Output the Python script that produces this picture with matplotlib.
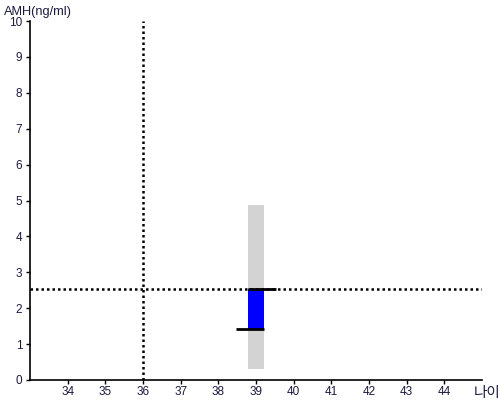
import matplotlib
matplotlib.use("Agg")
import matplotlib.pyplot as plt

plt.rcParams['font.family'] = ['Liberation Sans', 'Noto Sans CJK KR', 'DejaVu Sans']

age = 39.0
range_low, range_high = 0.31, 4.87
amh_low, amh_high = 1.42, 2.53
ref_age = 36
ref_amh = 2.53
x_ticks = list(range(34, 45))
y_ticks = list(range(0, 11))

fig = plt.figure(figsize=(5, 4), dpi=100)
ax = fig.add_axes([0.06, 0.05, 0.904, 0.8975])

bw = 0.43
ax.bar([age], [range_high - range_low], bottom=[range_low], width=bw, color='#d3d3d3', zorder=1)
ax.bar([age], [amh_high - amh_low], bottom=[amh_low], width=bw, color='#0000ff', zorder=2)
ax.plot([age - bw / 2, age + bw / 2 + 0.32], [amh_high, amh_high], color='black', lw=2, zorder=4, solid_capstyle='butt')
ax.plot([age - bw / 2 - 0.32, age + bw / 2], [amh_low, amh_low], color='black', lw=2, zorder=4, solid_capstyle='butt')
ax.axhline(ref_amh, color='black', lw=1.8, ls=(0, (1, 1.2)), zorder=3)
ax.axvline(ref_age, color='black', lw=1.8, ls=(0, (1, 1.2)), zorder=3)

ax.set_xlim(33, 45)
ax.set_ylim(0, 10)
ax.set_xticks(x_ticks)
ax.set_yticks(y_ticks)
ax.tick_params(labelsize=8.5, colors='black', labelcolor='#1a1a40', length=3, width=1)
ax.tick_params(axis='x', pad=1.5)
ax.tick_params(axis='y', pad=2.5)
for s in ['top', 'right']:
    ax.spines[s].set_visible(False)
for s in ['left', 'bottom']:
    ax.spines[s].set_linewidth(1.2)

fig.text(0.008, 0.985, 'AMH(ng/ml)', fontsize=9.2, color='#1a1a40', ha='left', va='top')
fig.text(0.948, 0.001, '나이', fontsize=10.5, color='#1a1a40', ha='left', va='bottom',
         family=['Noto Sans CJK KR', 'DejaVu Sans'])

fig.savefig('out.png', dpi=100)
